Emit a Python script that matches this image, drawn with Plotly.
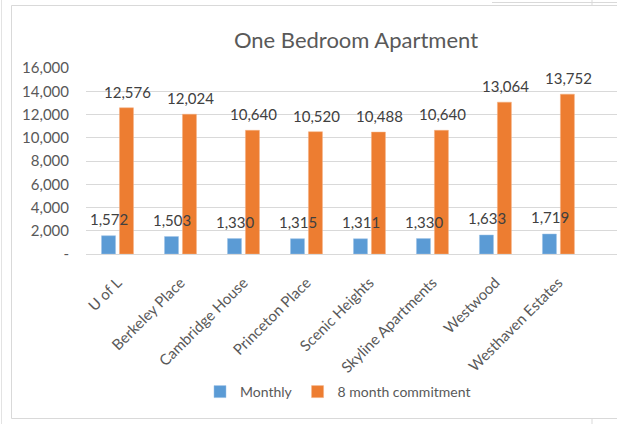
import plotly.graph_objects as go

categories = ["U of L", "Berkeley Place", "Cambridge House", "Princeton Place",
              "Scenic Heights", "Skyline Apartments", "Westwood", "Westhaven Estates"]
monthly = [1572, 1503, 1330, 1315, 1311, 1330, 1633, 1719]
commitment = [12576, 12024, 10640, 10520, 10488, 10640, 13064, 13752]
tick_vals = [0, 2000, 4000, 6000, 8000, 10000, 12000, 14000, 16000]
tick_text = ["-", "2,000", "4,000", "6,000", "8,000", "10,000", "12,000", "14,000", "16,000"]

BLUE = "#5B9BD5"
ORANGE = "#ED7D31"
TXT = "#595959"
FONT = "Lato"

W, H = 617, 424
L, R, T, B = 86, 0, 68, 170
PW, PH = W - L - R, H - T - B


def px(x):
    return (x - L) / PW


def py(y):
    return (H - B - y) / PH


fig = go.Figure()
fig.add_trace(go.Bar(x=categories, y=monthly, name="Monthly",
                     marker=dict(color=BLUE, line=dict(color="#9DC3E6", width=0.5))))
fig.add_trace(go.Bar(x=categories, y=commitment, name="8 month commitment",
                     marker=dict(color=ORANGE, line=dict(color="#F4B183", width=0.5))))

ann = []
for c, v in zip(categories, monthly):
    ann.append(dict(x=c, y=v, xref="x", yref="y", text=f"{v:,}", showarrow=False,
                    xshift=-8, yshift=17, font=dict(family=FONT, size=15, color="#404040")))
for c, v in zip(categories, commitment):
    ann.append(dict(x=c, y=v, xref="x", yref="y", text=f"{v:,}", showarrow=False,
                    xshift=10, yshift=16, font=dict(family=FONT, size=15, color="#404040")))

grey = "#D9D9D9"
shapes = [
    # chart area border
    dict(type="rect", xref="paper", yref="paper",
         x0=px(11.5), x1=px(720), y0=py(418.5), y1=py(5.5),
         line=dict(color=grey, width=1), fillcolor="rgba(0,0,0,0)", layer="below"),
    # spreadsheet surroundings
    dict(type="line", xref="paper", yref="paper", x0=px(1.5), x1=px(1.5), y0=py(0), y1=py(424),
         line=dict(color="#E3E3E3", width=1)),
    dict(type="line", xref="paper", yref="paper", x0=px(492), x1=px(617), y0=py(2.5), y1=py(2.5),
         line=dict(color=grey, width=1)),
    dict(type="line", xref="paper", yref="paper", x0=px(592), x1=px(592), y0=py(0), y1=py(6),
         line=dict(color=grey, width=1)),
    dict(type="line", xref="paper", yref="paper", x0=px(592), x1=px(592), y0=py(419), y1=py(424),
         line=dict(color=grey, width=1)),
]

fig.update_layout(
    width=W, height=H,
    margin=dict(l=L, r=R, t=T, b=B),
    paper_bgcolor="white", plot_bgcolor="white",
    barmode="group", bargap=0.43, bargroupgap=0.22,
    font=dict(family=FONT, color=TXT, size=15),
    title=dict(text="One Bedroom Apartment", x=356 / W, xanchor="center",
               y=1 - 40 / H, yanchor="middle",
               font=dict(family=FONT, size=22, color=TXT)),
    showlegend=True,
    legend=dict(orientation="h", x=px(338), xanchor="center", y=py(392), yanchor="middle",
                font=dict(family=FONT, size=14, color=TXT), itemwidth=30),
    annotations=ann,
    shapes=shapes,
)
fig.update_xaxes(range=[-0.5, 7.93], showgrid=False, showline=True, linecolor=grey,
                 tickangle=-45, ticks="", ticklabelstandoff=13,
                 tickfont=dict(family=FONT, size=15, color=TXT))
fig.update_yaxes(range=[0, 16000], tickvals=tick_vals, ticktext=tick_text,
                 showgrid=True, gridcolor=grey, gridwidth=1, zeroline=False,
                 showline=False, ticks="", ticklabelstandoff=16,
                 tickfont=dict(family=FONT, size=15, color=TXT))

fig.write_html("out.html", config={"displayModeBar": False},
               post_script="document.body.style.margin='0';")
